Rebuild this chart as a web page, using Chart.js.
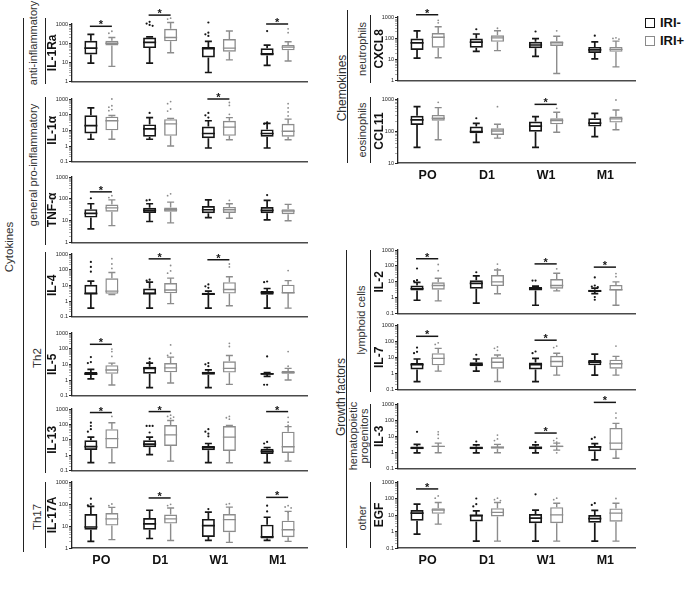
<!DOCTYPE html>
<html>
<head>
<meta charset="utf-8">
<script src="https://cdn.jsdelivr.net/npm/chart.js@4.4.1/dist/chart.umd.min.js"></script>
<style>
  body { margin: 0; width: 700px; height: 596px; position: relative; background: #fff; overflow: hidden;
         font-family: Arial, "Liberation Sans", sans-serif; }
  canvas { position: absolute; }
  .ln { position: absolute; width: 1.4px; background: #222; }
  .lbl { position: absolute; transform: translate(-50%, -50%) rotate(-90deg); white-space: nowrap;
         color: #333; font-size: 11px; text-align: center; line-height: 11px; }
  .leg { position: absolute; left: 645px; font-weight: bold; font-size: 13px; color: #111; line-height: 13px; }
  .leg span { display: inline-block; width: 8px; height: 8px; border: 1.8px solid; margin-right: 5px; vertical-align: -1px; }
</style>
</head>
<body>
<div class="ln" style="left:23px;top:18px;height:534px"></div>
<div class="ln" style="left:45px;top:18px;height:66px"></div>
<div class="ln" style="left:45px;top:97px;height:148px"></div>
<div class="ln" style="left:45px;top:252px;height:221px"></div>
<div class="ln" style="left:45px;top:482px;height:66px"></div>
<div class="ln" style="left:347px;top:10px;height:153px"></div>
<div class="ln" style="left:370px;top:15px;height:68px"></div>
<div class="ln" style="left:370px;top:97px;height:66px"></div>
<div class="ln" style="left:346px;top:250px;height:298px"></div>
<div class="ln" style="left:370px;top:250px;height:142px"></div>
<div class="ln" style="left:370px;top:404px;height:64px"></div>
<div class="ln" style="left:370px;top:482px;height:66px"></div>

<div class="lbl" style="left:9px;top:247px;font-size:11.5px">Cytokines</div>
<div class="lbl" style="left:33px;top:43px">anti-inflammatory</div>
<div class="lbl" style="left:33px;top:165px">general pro-inflammatory</div>
<div class="lbl" style="left:37px;top:358px;font-size:11.5px">Th2</div>
<div class="lbl" style="left:37px;top:517px;font-size:11.5px">Th17</div>
<div class="lbl" style="left:342px;top:88px;font-size:12px">Chemokines</div>
<div class="lbl" style="left:362px;top:49px">neutrophils</div>
<div class="lbl" style="left:362px;top:130px">eosinophils</div>
<div class="lbl" style="left:341px;top:397px;font-size:12px">Growth factors</div>
<div class="lbl" style="left:361px;top:320px">lymphoid cells</div>
<div class="lbl" style="left:359px;top:436px">hematopoietic<br>progenitors</div>
<div class="lbl" style="left:362px;top:518px">other</div>

<div class="leg" style="top:16px"><span style="border-color:#111"></span>IRI-</div>
<div class="leg" style="top:34px;color:#777"><span style="border-color:#8a8a8a"></span><b style="color:#111">IRI+</b></div>

<script>
// categories and groups
const categories = ["PO", "D1", "W1", "M1"];
const groups = ["IRI-", "IRI+"];

// boxes: [min, q1, median, q3, max] per category; outliers per category
const il1raNeg = [[9.3, 26, 56, 135, 290], [9.3, 56, 112, 200, 215], [3, 18, 52, 63, 126], [7, 23, 28, 55, 80]];
const il1raPos = [[6.3, 77, 100, 135, 200], [32, 126, 200, 560, 1200], [13.6, 36, 56, 165, 430], [12, 43, 63, 82, 120]];
const il1raNegOut = [[], [1300, 1050, 900, 800], [1200, 355, 290, 240], [430]];
const il1raPosOut = [[420, 330], [2000, 1800], [], [560, 355]];
const il1raSig = [["PO", 760], ["D1", 2900], ["M1", 1000]];

const il1aNeg = [[2.7, 6.3, 20, 91, 270], [2.7, 3.9, 12.6, 24, 65], [0.75, 3.1, 6.3, 17.6, 41], [0.75, 3.9, 6.3, 11.5, 28]];
const il1aPos = [[2.7, 10, 41, 75, 88], [1.0, 4.5, 26, 52, 58], [2.5, 4.5, 16, 41, 65], [2.5, 3.9, 8.7, 26, 52]];
const il1aNegOut = [[], [130], [130, 91, 65], [32, 26]];
const il1aPosOut = [[1000, 370, 300, 210, 180], [690, 500, 230, 170], [600, 390, 105], [500, 270, 150, 83]];
const il1aSig = [["W1", 1000]];

const tnfNeg = [[4.3, 14, 22, 34, 60], [9.3, 23, 30, 39, 60], [14, 22, 32, 47, 90], [11, 22, 30, 43, 85]];
const tnfPos = [[6, 26, 39, 55, 90], [8, 26, 32, 40, 71], [13, 23, 32, 43, 60], [10, 20, 28, 34, 56]];
const tnfNegOut = [[107], [90, 85], [], [150]];
const tnfPosOut = [[140, 115], [170, 140], [85], []];
const tnfSig = [["PO", 210]];

const il4Neg = [[0.35, 2.7, 3.0, 11, 18.6], [0.35, 2.7, 3.0, 6.2, 16], [0.35, 2.5, 2.7, 3.4, 4.3], [0.35, 2.5, 3.4, 4.3, 6.3]];
const il4Pos = [[2.6, 2.9, 4.3, 28, 66], [0.68, 3.1, 5, 14, 29], [0.5, 3, 5.4, 16, 35], [0.35, 3, 3.4, 11, 20]];
const il4NegOut = [[310, 150, 75], [23, 20], [11.5, 8.7, 7], [17.6, 16]];
const il4PosOut = [[500, 230, 120], [185, 83, 60], [230, 150], [87]];
const il4Sig = [["D1", 490], ["W1", 430]];

const il5Neg = [[1.2, 2.1, 2.5, 3.2, 4.8], [0.33, 2.5, 5.5, 7, 12], [0.33, 2.2, 2.8, 3.4, 4.4], [1.7, 2.2, 2.5, 2.8, 3]];
const il5Pos = [[0.48, 2.5, 4.4, 8.9, 12], [0.65, 3.1, 6, 12, 29], [0.53, 3, 5.5, 15.6, 37], [1.0, 2.5, 3, 3.8, 5.5]];
const il5NegOut = [[29, 14, 12], [23, 14], [12, 10, 7.7], [32, 0.5, 0.5]];
const il5PosOut = [[94, 65, 32], [174, 51, 37], [220, 138], [65, 7.7]];
const il5Sig = [["PO", 190]];

const il13Neg = [[0.33, 2.2, 3.6, 9.4, 15], [1.1, 3.3, 5.3, 9.4, 15], [0.33, 2.1, 3.2, 4, 5.8], [0.33, 1.2, 1.8, 2.6, 3.2]];
const il13Pos = [[0.33, 2.8, 12, 49, 129], [0.42, 4, 21, 91, 180], [0.33, 1.9, 15, 79, 87], [0.42, 1.4, 3.6, 34, 72]];
const il13NegOut = [[129, 79, 49, 34], [80, 80, 80, 30], [49, 34, 25, 17], [7.3, 5.8]];
const il13PosOut = [[330], [400, 330, 300, 250], [330, 270, 220], [290, 140, 87]];
const il13Sig = [["PO", 590], ["D1", 680], ["M1", 680]];

const il17Neg = [[2, 6.8, 9, 35, 78], [2.7, 6.8, 12.4, 23, 52], [2.2, 3.2, 10.5, 21, 43], [2.2, 2.7, 3.2, 11.5, 25]];
const il17Pos = [[2.4, 10.5, 21, 39, 70], [2.2, 12.9, 21, 33, 66], [1.8, 5.2, 19.5, 35, 72], [2.0, 3.1, 6.8, 17.4, 46]];
const il17NegOut = [[174, 100, 87], [], [59], [84, 46]];
const il17PosOut = [[100, 84], [97, 85], [103, 97], [84, 73, 66, 43]];
const il17Sig = [["D1", 188], ["M1", 200]];

const cxcl8Neg = [[11.5, 28, 61, 96, 224], [24, 36, 66, 96, 158], [14, 34, 48, 68, 96], [10.7, 20, 28, 39, 68]];
const cxcl8Pos = [[12, 36, 112, 175, 350], [26, 68, 104, 137, 224], [2.2, 43, 61, 73, 123], [4.5, 23, 30, 39, 73]];
const cxcl8NegOut = [[], [265], [208], [132]];
const cxcl8PosOut = [[700, 530], [295], [224], [105, 98, 91]];
const cxcl8Sig = [["PO", 1280]];

const ccl11Neg = [[31, 155, 222, 300, 577], [44, 85, 95, 137, 174], [31, 95, 143, 197, 282], [67, 137, 175, 250, 358]];
const ccl11Pos = [[53, 210, 250, 318, 537], [60, 75, 100, 122, 162], [91, 162, 212, 250, 385], [109, 183, 240, 282, 455]];
const ccl11NegOut = [[], [250], [], []];
const ccl11PosOut = [[790], [577], [512], [930]];
const ccl11Sig = [["W1", 680]];

const il2Neg = [[0.7, 2.9, 3.7, 5.9, 9.3], [0.46, 3.7, 8.1, 12.7, 24], [0.34, 2.9, 3.7, 4.7, 5.4], [1.8, 2.5, 2.6, 3.2, 4]];
const il2Pos = [[0.64, 3.2, 5.9, 9.3, 17], [1.8, 5.4, 10, 27, 55], [2.7, 3.7, 5.9, 15, 35], [0.34, 2.9, 3.2, 6.4, 10]];
const il2NegOut = [[69, 12.7, 11], [40], [12, 12], [19, 5.9, 5.1, 4.6, 1.1, 0.75]];
const il2PosOut = [[123, 50], [130, 66], [66], [33, 21]];
const il2Sig = [["PO", 283], ["W1", 134], ["M1", 84]];

const il7Neg = [[0.32, 1.8, 3.5, 4.4, 7.9], [1.4, 2.8, 3.6, 5, 7.9], [0.32, 1.8, 3.5, 4.8, 8.7], [0.8, 3.2, 5, 6.9, 15.8]];
const il7Pos = [[1.4, 3.2, 8.7, 18, 36], [0.32, 2, 5, 10, 14], [0.8, 2.5, 5.5, 12.6, 18], [0.8, 2, 4, 7.2, 11.5]];
const il7NegOut = [[40, 22, 18], [14.5], [23, 18], []];
const il7PosOut = [[79, 63], [44, 36, 27], [50, 40], [50]];
const il7Sig = [["PO", 200], ["W1", 115]];

const il3Neg = [[0.96, 1.6, 1.9, 2.4, 3.2], [0.96, 1.6, 1.9, 2.4, 3.0], [0.96, 1.6, 2, 2.4, 3.0], [0.35, 1.2, 2.2, 2.5, 3.5]];
const il3Pos = [[0.96, 2.2, 2.4, 2.6, 3.8], [0.96, 1.7, 2.1, 2.4, 3.2], [1.4, 2.1, 2.4, 2.75, 3.8], [0.44, 1.4, 3.8, 33, 63]];
const il3NegOut = [[19], [4.8], [4.4], [8.7, 6.9]];
const il3PosOut = [[19, 13, 7.6], [12, 6.9, 5.5], [7.6, 5.5, 4.4, 0.96], [275, 138]];
const il3Sig = [["W1", 16], ["M1", 1260]];

const egfNeg = [[0.7, 4.5, 13, 20, 45], [0.26, 4.1, 9.5, 10.2, 18], [0.26, 3.2, 6.5, 11.5, 20], [0.26, 3.4, 6, 10, 19]];
const egfPos = [[2.8, 11.7, 20, 26, 57], [0.26, 8.2, 14.5, 26, 57], [0.26, 3.2, 10.2, 30, 52], [0.26, 3.9, 13, 25, 52]];
const egfNegOut = [[], [100, 45, 33], [180], [52, 41]];
const egfPosOut = [[144, 105], [105, 85, 75], [105, 85], [100]];
const egfSig = [["PO", 380]];

// layout of the panels (pixel top/bottom of the plot area)
const panels = [
  { title: "IL-1Ra", col: "L", top: 24, bottom: 84, min: 1, max: 1000, neg: il1raNeg, pos: il1raPos, negOut: il1raNegOut, posOut: il1raPosOut, sig: il1raSig },
  { title: "IL-1\u03b1", col: "L", top: 99, bottom: 164, min: 0.1, max: 1000, neg: il1aNeg, pos: il1aPos, negOut: il1aNegOut, posOut: il1aPosOut, sig: il1aSig },
  { title: "TNF-\u03b1", col: "L", top: 177, bottom: 245, min: 1, max: 1000, neg: tnfNeg, pos: tnfPos, negOut: tnfNegOut, posOut: tnfPosOut, sig: tnfSig },
  { title: "IL-4", col: "L", top: 254, bottom: 319, min: 0.1, max: 1000, neg: il4Neg, pos: il4Pos, negOut: il4NegOut, posOut: il4PosOut, sig: il4Sig },
  { title: "IL-5", col: "L", top: 333, bottom: 398, min: 0.1, max: 1000, neg: il5Neg, pos: il5Pos, negOut: il5NegOut, posOut: il5PosOut, sig: il5Sig },
  { title: "IL-13", col: "L", top: 409, bottom: 473, min: 0.1, max: 1000, neg: il13Neg, pos: il13Pos, negOut: il13NegOut, posOut: il13PosOut, sig: il13Sig },
  { title: "IL-17A", col: "L", top: 482, bottom: 548, min: 1, max: 1000, neg: il17Neg, pos: il17Pos, negOut: il17NegOut, posOut: il17PosOut, sig: il17Sig, labels: true },
  { title: "CXCL8", col: "R", top: 17, bottom: 83, min: 1, max: 1000, neg: cxcl8Neg, pos: cxcl8Pos, negOut: cxcl8NegOut, posOut: cxcl8PosOut, sig: cxcl8Sig },
  { title: "CCL11", col: "R", top: 99, bottom: 163, min: 10, max: 1000, neg: ccl11Neg, pos: ccl11Pos, negOut: ccl11NegOut, posOut: ccl11PosOut, sig: ccl11Sig, labels: true },
  { title: "IL-2", col: "R", top: 250, bottom: 316, min: 0.1, max: 1000, neg: il2Neg, pos: il2Pos, negOut: il2NegOut, posOut: il2PosOut, sig: il2Sig },
  { title: "IL-7", col: "R", top: 325, bottom: 392, min: 0.1, max: 1000, neg: il7Neg, pos: il7Pos, negOut: il7NegOut, posOut: il7PosOut, sig: il7Sig },
  { title: "IL-3", col: "R", top: 404, bottom: 471, min: 0.1, max: 1000, neg: il3Neg, pos: il3Pos, negOut: il3NegOut, posOut: il3PosOut, sig: il3Sig },
  { title: "EGF", col: "R", top: 482, bottom: 548, min: 0.1, max: 1000, neg: egfNeg, pos: egfPos, negOut: egfNegOut, posOut: egfPosOut, sig: egfSig, labels: true }
];

const FONT = "Arial, 'Liberation Sans', sans-serif";
const BLACK = "#161616";
const GREY = "#8c8c8c";

function isDecade(v) {
  const l = Math.log10(v);
  return Math.abs(l - Math.round(l)) < 1e-6;
}

// decades plus minor 2..9 ticks
function logTicks(min, max) {
  const t = [];
  for (let e = Math.round(Math.log10(min)); e < Math.round(Math.log10(max)); e++) {
    for (let m = 1; m < 10; m++) t.push({ value: m * Math.pow(10, e) });
  }
  t.push({ value: max });
  return t;
}

// whiskers, medians, outliers and significance bars
const boxPlugin = {
  id: "boxes",
  afterDatasetsDraw(chart) {
    const ctx = chart.ctx;
    const ys = chart.scales.y;
    const py = v => ys.getPixelForValue(v);
    chart.data.datasets.forEach((ds, di) => {
      const meta = chart.getDatasetMeta(di);
      ctx.save();
      ctx.strokeStyle = ds.borderColor;
      ctx.fillStyle = ds.borderColor;
      ctx.lineWidth = ds.borderWidth;
      meta.data.forEach((bar, i) => {
        const s = ds.stats[i];
        const x = bar.x;
        const half = bar.width / 2;
        const cap = 3.5;
        ctx.beginPath();
        ctx.moveTo(x, py(s[3])); ctx.lineTo(x, py(s[4]));
        ctx.moveTo(x, py(s[1])); ctx.lineTo(x, py(s[0]));
        ctx.moveTo(x - cap, py(s[4])); ctx.lineTo(x + cap, py(s[4]));
        ctx.moveTo(x - cap, py(s[0])); ctx.lineTo(x + cap, py(s[0]));
        ctx.moveTo(x - half, py(s[2])); ctx.lineTo(x + half, py(s[2]));
        ctx.stroke();
        // outliers, nudged sideways when they would overlap
        const placed = [];
        ds.outliers[i].forEach(v => {
          const y = py(v);
          let dx = 0;
          for (const off of [0, -3, 3, -6, 6]) {
            if (!placed.some(p => Math.abs(p[0] - off) < 2.5 && Math.abs(p[1] - y) < 2.5)) { dx = off; break; }
          }
          placed.push([dx, y]);
          ctx.beginPath();
          ctx.arc(x + dx, y, ds.dotRadius, 0, Math.PI * 2);
          ctx.fill();
        });
      });
      ctx.restore();
    });
    // significance
    const sig = chart.options.plugins.boxes.sig || [];
    const mNeg = chart.getDatasetMeta(0);
    const mPos = chart.getDatasetMeta(1);
    ctx.save();
    ctx.strokeStyle = BLACK;
    ctx.fillStyle = BLACK;
    ctx.lineWidth = 1.5;
    ctx.font = "bold 11px " + FONT;
    ctx.textAlign = "center";
    ctx.textBaseline = "alphabetic";
    sig.forEach(([cat, level]) => {
      const i = categories.indexOf(cat);
      const x1 = mNeg.data[i].x - 1;
      const x2 = mPos.data[i].x;
      const y = py(level);
      ctx.beginPath();
      ctx.moveTo(x1, y); ctx.lineTo(x2, y);
      ctx.stroke();
      ctx.fillText("*", (x1 + x2) / 2, y + 2);
    });
    ctx.restore();
  }
};

function makePanel(p) {
  const col = p.col === "L" ? { left: 45, width: 265, yw: 27, tpad: 0 } : { left: 370, width: 268, yw: 28, tpad: 2 };
  const padTop = 18;
  const xh = p.labels ? 24 : 0;
  const padBottom = p.labels ? 0 : 2;
  const cv = document.createElement("canvas");
  cv.width = col.width;
  cv.height = (p.bottom - p.top) + padTop + xh + padBottom;
  cv.style.left = col.left + "px";
  cv.style.top = (p.top - padTop) + "px";
  document.body.appendChild(cv);

  new Chart(cv, {
    type: "bar",
    data: {
      labels: categories,
      datasets: [
        { label: groups[0], data: p.neg.map(b => [b[1], b[3]]), stats: p.neg, outliers: p.negOut,
          borderColor: BLACK, backgroundColor: "rgba(255,255,255,0)", borderWidth: 1.7, dotRadius: 1.1 },
        { label: groups[1], data: p.pos.map(b => [b[1], b[3]]), stats: p.pos, outliers: p.posOut,
          borderColor: GREY, backgroundColor: "rgba(255,255,255,0)", borderWidth: 1.4, dotRadius: 0.9 }
      ]
    },
    options: {
      responsive: false,
      animation: false,
      events: [],
      layout: { padding: { top: padTop, bottom: padBottom, left: 0, right: 3 } },
      datasets: { bar: { categoryPercentage: 0.715, barPercentage: 0.62, borderSkipped: false, clip: false, inflateAmount: 0 } },
      plugins: { legend: { display: false }, tooltip: { enabled: false }, boxes: { sig: p.sig } },
      scales: {
        x: {
          type: "category",
          offset: true,
          grid: { display: false, drawTicks: false },
          border: { display: true, color: "#4a4a4a", width: 1.4 },
          ticks: { display: !!p.labels, padding: 5, color: "#111", font: { family: FONT, size: 12.5, weight: "bold" } },
          afterFit: s => { s.height = xh; }
        },
        y: {
          type: "logarithmic",
          min: p.min,
          max: p.max,
          afterBuildTicks: s => { s.ticks = logTicks(p.min, p.max); },
          afterFit: s => { s.width = col.yw; },
          grid: {
            drawOnChartArea: false, drawTicks: true, tickLength: 3,
            tickColor: c => isDecade(c.tick.value) ? "#222" : "#777",
            tickWidth: c => isDecade(c.tick.value) ? 1 : 0.6
          },
          border: { display: true, color: "#222", width: 1.3 },
          ticks: {
            autoSkip: false,
            padding: 1,
            color: "#222",
            font: { family: FONT, size: 5.5 },
            callback: v => isDecade(v) ? String(Number(v.toPrecision(1))) : ""
          },
          title: {
            display: true,
            text: p.title,
            color: "#111",
            padding: { top: col.tpad, bottom: 0 },
            font: { family: FONT, size: 12, weight: "bold" }
          }
        }
      }
    },
    plugins: [boxPlugin]
  });
}

panels.forEach(makePanel);
</script>
</body>
</html>
